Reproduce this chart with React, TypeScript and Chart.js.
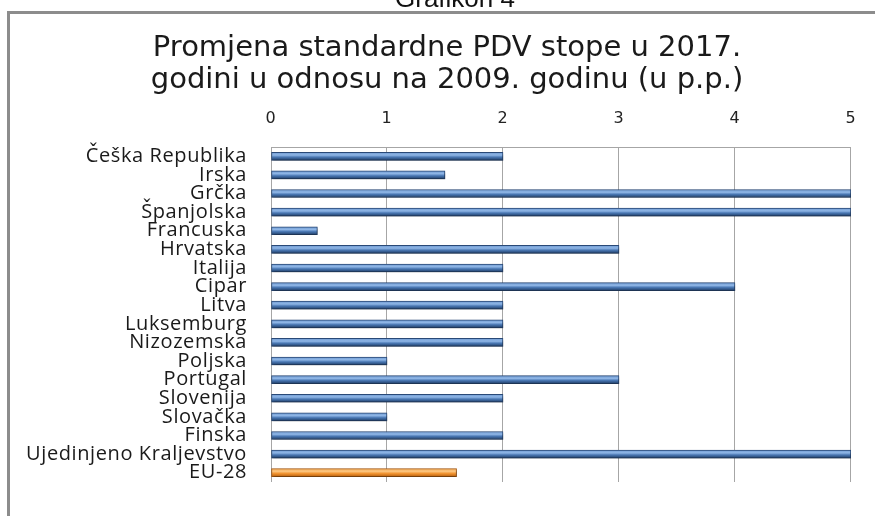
import React, { useEffect, useRef } from "react";
import { Chart, registerables } from "chart.js";

Chart.register(...registerables);

const caption = "Grafikon 4";
const titleLines = [
  "Promjena standardne PDV stope u 2017.",
  "godini u odnosu na 2009. godinu (u p.p.)",
];
const categories = [
  "Češka Republika",
  "Irska",
  "Grčka",
  "Španjolska",
  "Francuska",
  "Hrvatska",
  "Italija",
  "Cipar",
  "Litva",
  "Luksemburg",
  "Nizozemska",
  "Poljska",
  "Portugal",
  "Slovenija",
  "Slovačka",
  "Finska",
  "Ujedinjeno Kraljevstvo",
  "EU-28",
];
const changes = [2, 1.5, 5, 5, 0.4, 3, 2, 4, 2, 2, 2, 1, 3, 2, 1, 2, 5, 1.6];
const highlighted = ["EU-28"];
const xTicks = [0, 1, 2, 3, 4, 5];

const BAR_T = 8;

const framePlugin = {
  id: "framePlugin",
  beforeDraw(chart: any) {
    const ctx = chart.ctx;
    ctx.save();
    ctx.fillStyle = "#ffffff";
    ctx.fillRect(0, 0, chart.width, chart.height);
    ctx.fillStyle = "#8c8c8c";
    ctx.fillRect(7, 11, chart.width - 7, 3);
    ctx.fillRect(7, 11, 3, chart.height - 11);
    ctx.fillStyle = "#111111";
    ctx.textAlign = "center";
    ctx.textBaseline = "alphabetic";
    ctx.font = "26px 'Liberation Sans', Arial, sans-serif";
    ctx.fillText(caption, 455, 7);
    ctx.font = "29px 'DejaVu Sans', Verdana, sans-serif";
    ctx.fillStyle = "#1a1a1a";
    ctx.fillText(titleLines[0], 447, 56);
    ctx.fillText(titleLines[1], 447, 88);
    ctx.restore();
    (ctx as any).letterSpacing = "0.6px";
  },
  beforeDatasetsDraw(chart: any) {
    const ctx = chart.ctx;
    (ctx as any).letterSpacing = "0px";
    ctx.save();
    ctx.shadowColor = "rgba(0,0,0,0.35)";
    ctx.shadowBlur = 3;
    ctx.shadowOffsetY = 2;
    ctx.shadowOffsetX = 1;
  },
  afterDatasetsDraw(chart: any) {
    chart.ctx.restore();
  },
};

function barFill(c: any) {
  const chart = c.chart;
  const ys = chart.scales && chart.scales.y;
  const isHi = highlighted.includes(categories[c.dataIndex]);
  const flat = isHi ? "#f39a36" : "#4f81bd";
  if (!ys || c.dataIndex == null) return flat;
  const y = ys.getPixelForValue(c.dataIndex);
  if (!isFinite(y)) return flat;
  const g = chart.ctx.createLinearGradient(0, y - BAR_T / 2, 0, y + BAR_T / 2);
  if (isHi) {
    g.addColorStop(0, "#f7b567");
    g.addColorStop(0.35, "#fbc27a");
    g.addColorStop(0.6, "#f19431");
    g.addColorStop(1, "#b8600e");
  } else {
    g.addColorStop(0, "#6f9ad2");
    g.addColorStop(0.35, "#8fb6e6");
    g.addColorStop(0.6, "#4a78b4");
    g.addColorStop(1, "#1f3d66");
  }
  return g;
}

export default function App() {
  const ref = useRef<HTMLCanvasElement | null>(null);
  useEffect(() => {
    if (!ref.current) return;
    const chart = new Chart(ref.current, {
      type: "bar",
      data: {
        labels: categories,
        datasets: [
          {
            data: changes,
            backgroundColor: barFill as any,
            borderColor: categories.map((c) =>
              highlighted.includes(c) ? "#a85a10" : "#2a4a78"
            ),
            borderWidth: 1,
            borderSkipped: false,
            barThickness: BAR_T,
          },
        ],
      },
      options: {
        indexAxis: "y",
        responsive: false,
        animation: false,
        devicePixelRatio: 1,
        layout: { padding: { left: 0, top: 107, right: 18, bottom: 14 } },
        plugins: {
          legend: { display: false },
          title: { display: false },
          tooltip: { enabled: false },
        },
        scales: {
          x: {
            position: "top",
            min: 0,
            max: 5,
            afterBuildTicks: (axis: any) => {
              axis.ticks = xTicks.map((v) => ({ value: v }));
            },
            afterFit: (axis: any) => {
              axis.height = 40;
            },
            grid: { color: "#a6a6a6", lineWidth: 1, drawTicks: false },
            border: { display: true, color: "#a6a6a6" },
            ticks: {
              padding: 19,
              color: "#222222",
              font: { family: "'DejaVu Sans', sans-serif", size: 16 },
            },
          },
          y: {
            afterFit: (axis: any) => {
              axis.width = 271;
            },
            grid: { display: false, drawTicks: false },
            border: { display: false },
            ticks: {
              padding: 24,
              autoSkip: false,
              color: "#1a1a1a",
              font: { family: "'Open Sans', sans-serif", size: 20, lineHeight: 1 },
            },
          },
        },
      },
      plugins: [framePlugin],
    });
    return () => chart.destroy();
  }, []);
  return (
    <div style={{ position: "fixed", left: 0, top: 0, width: 875, height: 516 }}>
      <canvas ref={ref} width={875} height={516} style={{ width: 875, height: 516 }} />
    </div>
  );
}
